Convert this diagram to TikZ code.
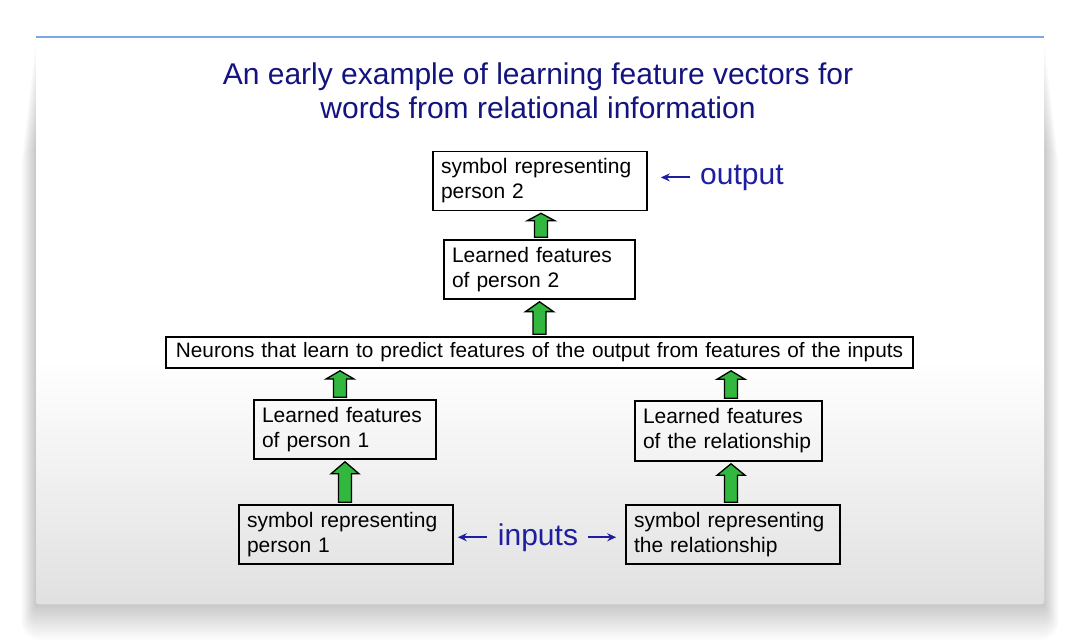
\documentclass[tikz,border=0pt]{standalone}
\usepackage{fontspec}
\setmainfont{Liberation Sans}
\usetikzlibrary{arrows.meta,calc}
\definecolor{titleblue}{HTML}{141480}
\definecolor{labelblue}{HTML}{1E1EA0}
\definecolor{arrowgreen}{HTML}{33B83F}
\definecolor{topline}{HTML}{7BA7E3}
\tikzset{
  box/.style={draw=black,line width=1.6pt,align=left,inner xsep=7pt,inner ysep=0pt,
    minimum height=59pt,font=\fontsize{21}{25}\selectfont},
  fat/.style={draw=black,fill=arrowgreen,line width=1.3pt,line join=miter},
  pointer/.style={-{Stealth[length=9pt,width=8pt]},draw=labelblue,line width=2pt},
  labelstyle/.style={text=labelblue,inner sep=0pt,font=\fontsize{30}{34}\selectfont},
  titlestyle/.style={text=titleblue,align=center,inner sep=0pt,font=\fontsize{30}{34}\selectfont}
}
\newcommand\fatup[3][0pt]{%
  \draw[fat] let \p1=($(#2.north)+(#1,0)$), \p2=(#3.south), \n1={0.27*(\y2-\y1)} in
    (\x1-6.5pt,\y1+2pt) -- (\x1+6.5pt,\y1+2pt) -- (\x1+6.5pt,\y2-2pt-\n1)
    -- (\x1+14pt,\y2-2pt-\n1) -- (\x1,\y2-2pt) -- (\x1-14pt,\y2-2pt-\n1)
    -- (\x1-6.5pt,\y2-2pt-\n1) -- cycle;}

\begin{document}
\begin{tikzpicture}[x=1pt,y=-1pt]
  \useasboundingbox (0,0) rectangle (1080,640);
  \fill[white] (0,0) rectangle (1080,640);
  \foreach \i in {1,...,18}
    \fill[black,opacity=0.012,rounded corners=\i pt]
      (36-0.8*\i,37+6*\i) rectangle (1044+0.8*\i,604+2*\i);
  \fill[white,rounded corners=3pt] (36,37) rectangle (1044,604);
  \shade[top color=white,bottom color=black!12,rounded corners=3pt] (36,360) rectangle (1044,604);
  \draw[topline,line width=2pt] (36,37) -- (1044,37);

  \node[titlestyle] (title) at (538,91)
    {An early example of learning feature vectors for\\words from relational information};

  \node[box,minimum width=214pt,text width=198pt] (out) at (540,181) {symbol representing\\person 2};
  \node[box,minimum width=191pt,text width=175pt] (f2) at (539.5,269.5) {Learned features\\of person 2};
  \node[box,minimum width=747pt,text width=745pt,inner xsep=0pt,align=center,minimum height=31pt,
    font=\fontsize{20.8}{25}\selectfont] (hid) at (539.5,352.5)
    {Neurons that learn to predict features of the output from features of the inputs};
  \node[box,minimum width=182pt,text width=166pt] (f1) at (345,429.5) {Learned features\\of person 1};
  \node[box,minimum width=187pt,text width=171pt,minimum height=60pt] (fr) at (728.5,431)
    {Learned features\\of the relationship};
  \node[box,minimum width=214pt,text width=198pt] (in1) at (346,534.5) {symbol representing\\person 1};
  \node[box,minimum width=214pt,text width=198pt] (inr) at (733,534.5) {symbol representing\\the relationship};

  \fatup[1.5pt]{f2}{out}
  \fatup{hid}{f2}
  \fatup[-5pt]{f1}{hid}
  \fatup[2.5pt]{fr}{hid}
  \fatup[-1pt]{in1}{f1}
  \fatup[-2pt]{inr}{fr}

  \node[labelstyle,anchor=base west] (outlbl) at (700,184) {output};
  \node[labelstyle,anchor=base] (inlbl) at (538,545) {inputs};
  \draw[pointer,shorten <=10pt,shorten >=13pt] (outlbl.west) -- (outlbl.west -| out.east);
  \draw[pointer,shorten <=11pt,shorten >=4pt] (inlbl.west) -- (inlbl.west -| in1.east);
  \draw[pointer,shorten <=10pt,shorten >=9pt] (inlbl.east) -- (inlbl.east -| inr.west);
\end{tikzpicture}
\end{document}
